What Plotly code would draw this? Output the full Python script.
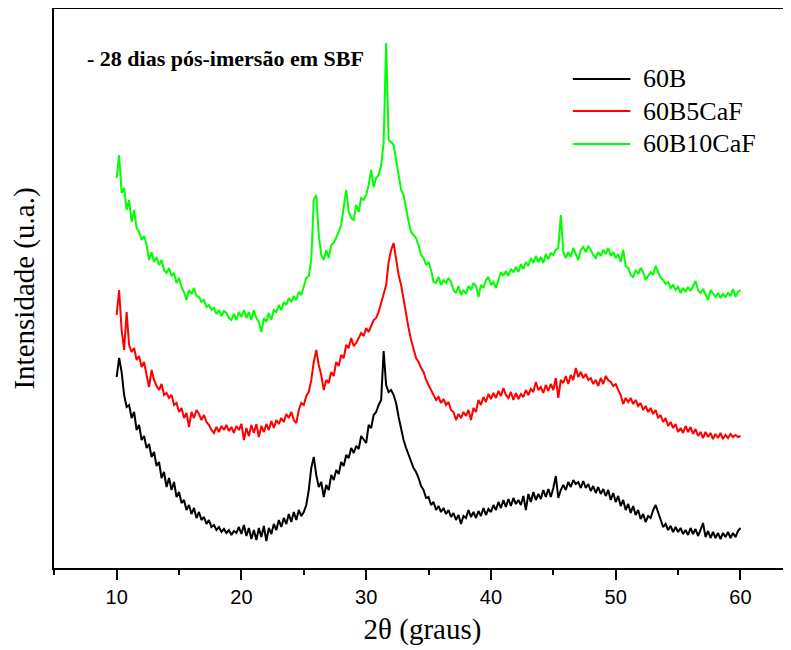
import numpy as np
import plotly.graph_objects as go

# 2theta grid, 0.2 deg step from 10 to 60 (one row = 2 deg)
two_theta = np.round(np.arange(10, 60.001, 0.2), 1)

# intensities (arbitrary units)
int_60B = [
    191, 210, 196, 173, 161, 163, 150, 156, 138, 143,
    128, 132, 120, 124, 111, 116, 102, 106, 90, 96,
    81, 90, 78, 86, 71, 76, 65, 68, 58, 63,
    54, 60, 50, 56, 48, 51, 44, 48, 41, 43,
    38, 41, 36, 39, 35, 38, 33, 37, 35, 41,
    34, 43, 32, 40, 29, 38, 28, 40, 31, 42,
    27, 40, 34, 44, 38, 48, 41, 50, 44, 54,
    46, 56, 48, 58, 52, 56, 63, 78, 100, 111,
    93, 81, 86, 71, 83, 78, 93, 88, 98, 94,
    106, 102, 113, 110, 120, 115, 122, 119, 132, 128,
    125, 143, 140, 153, 156, 163, 168, 217, 183, 176,
    178, 173, 165, 151, 138, 128, 120, 113, 108, 100,
    96, 90, 82, 78, 70, 71, 63, 66, 58, 62,
    56, 60, 54, 58, 51, 55, 48, 53, 44, 52,
    50, 58, 51, 56, 50, 57, 52, 60, 53, 59,
    56, 63, 58, 66, 60, 68, 61, 69, 62, 70,
    64, 68, 63, 72, 58, 74, 66, 76, 68, 74,
    69, 78, 71, 79, 71, 80, 92, 70, 78, 83,
    78, 86, 81, 88, 84, 86, 80, 87, 80, 84,
    77, 82, 75, 81, 74, 79, 72, 78, 68, 75,
    66, 72, 62, 68, 58, 64, 55, 62, 53, 58,
    49, 54, 46, 52, 50, 58, 63, 56, 48, 41,
    44, 38, 42, 36, 41, 36, 40, 34, 38, 33,
    40, 34, 39, 32, 38, 45, 31, 37, 30, 36,
    30, 35, 29, 35, 31, 36, 30, 35, 31, 37,
    40,
]

int_60B5CaF = [
    253, 278, 238, 218, 256, 223, 216, 220, 208, 212,
    201, 206, 193, 181, 198, 188, 182, 178, 184, 173,
    175, 170, 173, 163, 165, 156, 160, 150, 155, 141,
    156, 150, 158, 154, 148, 153, 146, 143, 138, 135,
    141, 136, 142, 138, 143, 137, 141, 135, 142, 138,
    144, 128, 140, 132, 143, 135, 144, 131, 142, 136,
    144, 138, 147, 140, 148, 144, 150, 146, 154, 150,
    156, 148, 145, 158, 165, 163, 172, 176, 188, 206,
    218, 203, 193, 178, 188, 185, 196, 192, 206, 202,
    213, 210, 223, 220, 230, 222, 225, 230, 235, 232,
    240, 236, 243, 248, 250, 256, 265, 273, 283, 306,
    318, 325, 310, 293, 283, 268, 253, 240, 228, 218,
    210, 206, 200, 196, 188, 183, 178, 172, 168, 171,
    165, 169, 163, 166, 158, 156, 148, 154, 150, 156,
    152, 158, 148, 160, 156, 168, 163, 171, 166, 174,
    169, 175, 170, 177, 172, 180, 173, 170, 176, 168,
    175, 169, 174, 171, 178, 173, 179, 176, 186, 178,
    181, 175, 183, 177, 184, 178, 190, 170, 188, 185,
    192, 184, 193, 188, 200, 191, 196, 190, 194, 188,
    190, 184, 188, 182, 190, 184, 192, 188, 186, 182,
    184, 178, 173, 164, 170, 166, 170, 164, 168, 162,
    165, 158, 162, 156, 160, 154, 158, 150, 153, 146,
    150, 142, 146, 140, 144, 136, 140, 135, 142, 136,
    141, 134, 139, 132, 136, 130, 136, 131, 135, 129,
    134, 130, 135, 129, 133, 130, 134, 131, 133, 131,
    132,
]

int_60B10CaF = [
    390, 413, 375, 380, 358, 368, 346, 358, 340, 336,
    328, 332, 323, 308, 316, 306, 311, 303, 308, 298,
    295, 300, 292, 295, 285, 290, 281, 276, 268, 278,
    274, 280, 272, 271, 266, 268, 261, 263, 258, 260,
    254, 258, 252, 257, 255, 250, 248, 254, 248, 256,
    251, 258, 250, 256, 248, 258, 250, 246, 236, 250,
    246, 255, 248, 258, 256, 263, 258, 266, 263, 270,
    266, 272, 268, 276, 273, 283, 290, 292, 308, 368,
    373, 333, 313, 308, 318, 310, 323, 325, 330, 336,
    343, 363, 378, 356, 350, 348, 363, 356, 370, 368,
    373, 383, 398, 381, 390, 393, 403, 425, 525, 428,
    426, 423, 408, 396, 378, 373, 358, 346, 336, 333,
    330, 323, 313, 310, 303, 306, 298, 286, 285, 291,
    283, 288, 285, 290, 286, 278, 275, 282, 273, 278,
    274, 282, 278, 285, 282, 271, 283, 280, 288, 291,
    283, 286, 280, 288, 296, 292, 297, 292, 299, 296,
    301, 296, 304, 299, 306, 302, 310, 305, 312, 306,
    311, 305, 314, 309, 315, 313, 318, 320, 353, 316,
    310, 316, 311, 320, 313, 308, 318, 321, 316, 322,
    318, 313, 310, 316, 312, 318, 314, 320, 312, 316,
    310, 314, 306, 318, 302, 300, 293, 291, 298, 294,
    300, 296, 288, 292, 296, 293, 302, 296, 290, 288,
    284, 286, 280, 283, 278, 281, 275, 280, 276, 281,
    277, 282, 287, 278, 275, 279, 273, 268, 278, 274,
    271, 275, 270, 274, 271, 275, 272, 279, 271, 276,
    278,
]

series_names = ["60B", "60B5CaF", "60B10CaF"]
series_colors = ["#000000", "#ff0000", "#00ff00"]
series_values = [int_60B, int_60B5CaF, int_60B10CaF]

for vals in series_values:
    assert len(vals) == len(two_theta), len(vals)

serif = "Liberation Serif, Times New Roman, serif"
sans = "Liberation Sans, Arial, sans-serif"

fig = go.Figure()
for name, color, vals in zip(series_names, series_colors, series_values):
    fig.add_trace(go.Scatter(
        x=two_theta, y=vals, mode="lines", name=name,
        line=dict(color=color, width=2), showlegend=False,
    ))

# legend drawn by hand (longer sample lines, tighter rows than plotly's legend)
legend_rows = [0.8748, 0.8175, 0.7585]
for name, color, ypos in zip(series_names, series_colors, legend_rows):
    fig.add_shape(type="line", xref="paper", yref="paper",
                  x0=0.704, x1=0.782, y0=ypos, y1=ypos,
                  line=dict(color=color, width=2))
    fig.add_annotation(text=name, xref="paper", yref="paper",
                       x=0.7965, y=ypos, xanchor="left", yanchor="middle",
                       showarrow=False,
                       font=dict(family=serif, size=26, color="black"))

fig.add_annotation(
    text="<b>- 28 dias pós-imersão em SBF</b>",
    xref="paper", yref="paper", x=0.042, y=0.912,
    xanchor="left", yanchor="middle", showarrow=False,
    font=dict(family=serif, size=22, color="black"),
)

# page body has an 8px margin, so the figure is a bit smaller than the window
fig.update_layout(
    width=783, height=642,
    margin=dict(l=46, r=0, t=1, b=82),
    plot_bgcolor="white", paper_bgcolor="white",
    showlegend=False,
)

fig.update_xaxes(
    range=[4.98, 64.05], tick0=10, dtick=10,
    ticks="outside", ticklen=10, tickwidth=2, tickcolor="black",
    minor=dict(dtick=5, tick0=5, ticks="outside", ticklen=5, tickwidth=2, tickcolor="black"),
    showline=True, linewidth=2, linecolor="black", mirror=True,
    showgrid=False, zeroline=False,
    tickfont=dict(family=sans, size=20, color="black"),
    title=dict(text="2θ (graus)", font=dict(family=serif, size=29, color="black"), standoff=12),
)
fig.update_yaxes(
    range=[0, 559], showticklabels=False, ticks="",
    showline=True, linewidth=2, linecolor="black", mirror=False,
    showgrid=False, zeroline=False,
    title=dict(text="Intensidade (u.a.)", font=dict(family=serif, size=29, color="black"), standoff=12),
)

fig.write_html("out.html")
